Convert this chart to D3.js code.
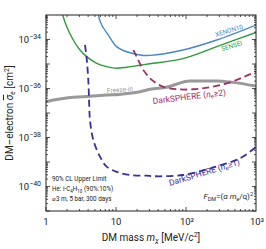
<!DOCTYPE html>
<html><head><meta charset="utf-8">
<script src="https://cdn.jsdelivr.net/npm/d3@7"></script>
<style>body{margin:0;background:#fff}text{font-family:Roboto,"Noto Sans",sans-serif}</style>
</head><body><svg id="c" width="266" height="249"></svg>
<script>
// ---- data (mass in MeV, log10 cross-section in cm^2) ----
const senseiM = [1.73,1.98,2.45,3.06,3.81,5.3,7.36,9.68,14.2,22,30.6,90.6,275,1000];
const senseiL = [-33,-33.48,-34.02,-34.43,-34.70,-34.97,-35.11,-35.17,-35.13,-35.05,-34.99,-34.78,-34.29,-33.71];
const xenonM = [5.58,6.25,7.77,10.2,14.2,22,30.6,90.6,275,1000];
const xenonL = [-33,-33.41,-33.82,-34.29,-34.50,-34.63,-34.65,-34.43,-34.02,-33.41];
const freezeM = [1,1.27,1.58,2.45,4.25,7.36,12.7,22,30.6,52.6,113.8,275,468,1000];
const freezeL = [-36.54,-36.47,-36.43,-36.36,-36.32,-36.27,-36.22,-36.13,-36.03,-35.95,-35.69,-35.69,-35.75,-35.90];
const ds2M = [17.7,20.8,24.5,30.6,38.1,47.4,73.6,127,220,381,659,1000];
const ds2L = [-34.43,-34.84,-35.24,-35.58,-35.79,-35.93,-36.03,-36.03,-35.95,-35.79,-35.54,-35.31];
const ds1M = [3.61,3.81,4.02,4.15,4.25,4.74,5.9,7.36,10.2,15.8,27.5,33.8,90.6,268,590,1000];
const ds1L = [-34.22,-34.77,-35.65,-36.74,-37.29,-38.10,-38.78,-39.19,-39.40,-39.53,-39.56,-39.58,-39.53,-39.19,-38.85,-38.39];
const xTickVals = [1,10,100,1000];
const xTickLabels = ["1","10","10²","10³"];
const yTickExps = [-34,-36,-38,-40];

const svg = d3.select("#c");
const L=46,R=256,T=15,B=211;
const x = d3.scaleLog().domain([1,1000]).range([L,R]);
const y = d3.scaleLog().domain([1e-41,1e-33]).range([B,T]);

const defs = svg.append("defs");
defs.append("clipPath").attr("id","cp").append("rect").attr("x",L).attr("y",T).attr("width",R-L).attr("height",B-T);
const g = svg.append("g").attr("clip-path","url(#cp)");
const line = d3.line().x(d=>x(d[0])).y(d=>y(Math.pow(10,d[1]))).curve(d3.curveMonotoneX);
const lineC = d3.line().x(d=>x(d[0])).y(d=>y(Math.pow(10,d[1]))).curve(d3.curveCatmullRom);
function draw(M,Lg,color,w,dash,gen){
  g.append("path").datum(M.map((m,i)=>[m,Lg[i]])).attr("d",(gen||line)).attr("fill","none")
   .attr("stroke",color).attr("stroke-width",w).attr("stroke-dasharray",dash||null);
}
draw(freezeM,freezeL,"#999999",3);
draw(senseiM,senseiL,"#2e9a3a",1.4,null,lineC);
draw(xenonM,xenonL,"#4a86c3",1.4,null,lineC);
draw(ds2M,ds2L,"#9a3265",1.8,"7,4",lineC);
draw(ds1M,ds1L,"#3a2f98",1.8,"7,4",lineC);

// frame
svg.append("rect").attr("x",L).attr("y",T).attr("width",R-L).attr("height",B-T).attr("fill","none").attr("stroke","#222").attr("stroke-width",1);

// ticks
const tk = svg.append("g").attr("stroke","#222").attr("stroke-width",0.8);
for(let d=0; d<3; d++) for(let k=1;k<10;k++){
  const v=Math.pow(10,d)*k, px=x(v), len = k===1?4:2;
  tk.append("line").attr("x1",px).attr("x2",px).attr("y1",B).attr("y2",B-len);
  tk.append("line").attr("x1",px).attr("x2",px).attr("y1",T).attr("y2",T+len);
}
for(let e=-41; e<-33; e++) for(let k=1;k<10;k++){
  const v=k*Math.pow(10,e), py=y(v), len = k===1?4:2;
  tk.append("line").attr("x1",L).attr("x2",L+len).attr("y1",py).attr("y2",py);
  tk.append("line").attr("x1",R).attr("x2",R-len).attr("y1",py).attr("y2",py);
}
// tick labels
xTickVals.forEach((v,i)=>{
  svg.append("text").attr("x",x(v)+(i>1?1:0)).attr("y",225).attr("text-anchor","middle").attr("font-size",9.5).attr("fill","#222").text(xTickLabels[i]);
});
yTickExps.forEach(e=>{
  const t = svg.append("text").attr("x",41).attr("y",y(Math.pow(10,e))+3.5).attr("text-anchor","end").attr("font-size",9.5).attr("fill","#222");
  t.append("tspan").text("10");
  t.append("tspan").attr("dy",-4).attr("font-size",7).text("−"+(-e));
});
// axis titles
const xt = svg.append("text").attr("x",151).attr("y",241).attr("text-anchor","middle").attr("font-size",10).attr("fill","#222");
xt.append("tspan").text("DM mass ");
xt.append("tspan").attr("font-style","italic").text("m");
xt.append("tspan").attr("font-style","italic").attr("font-size",7).attr("dy",2).text("χ");
xt.append("tspan").attr("dy",-2).text(" [MeV/");
xt.append("tspan").attr("font-style","italic").text("c");
xt.append("tspan").attr("font-size",7).attr("dy",-4).text("2");
xt.append("tspan").attr("dy",4).text("]");
const yt = svg.append("text").attr("transform","translate(13,113) rotate(-90)").attr("text-anchor","middle").attr("font-size",10).attr("fill","#222");
yt.append("tspan").text("DM–electron ");
yt.append("tspan").attr("font-style","italic").attr("text-decoration","overline").text("σ");
yt.append("tspan").attr("font-style","italic").attr("font-size",7).attr("dy",2).text("e");
yt.append("tspan").attr("dy",-2).text(" [cm");
yt.append("tspan").attr("font-size",7).attr("dy",-4).text("2");
yt.append("tspan").attr("dy",4).text("]");

// curve labels
svg.append("text").attr("transform","translate(107,93) rotate(-5)").attr("font-size",6.5).attr("fill","#999").text("Freeze-in");
svg.append("text").attr("transform","translate(216,37) rotate(-17)").attr("font-size",6.5).attr("fill","#4a86c3").text("XENON10");
svg.append("text").attr("transform","translate(222,51) rotate(-16)").attr("font-size",6.5).attr("fill","#2e9a3a").text("SENSEI");
const l2 = svg.append("text").attr("transform","translate(153,104) rotate(-7)").attr("font-size",8.5).attr("fill","#9a3265");
l2.append("tspan").text("DarkSPHERE (");
l2.append("tspan").attr("font-style","italic").text("n");
l2.append("tspan").attr("font-style","italic").attr("font-size",6).attr("dy",1.5).text("e");
l2.append("tspan").attr("dy",-1.5).text("≥2)");
const l1 = svg.append("text").attr("transform","translate(170,186) rotate(-17)").attr("font-size",8.5).attr("fill","#3a2f98");
l1.append("tspan").text("DarkSPHERE (");
l1.append("tspan").attr("font-style","italic").text("n");
l1.append("tspan").attr("font-style","italic").attr("font-size",6).attr("dy",1.5).text("e");
l1.append("tspan").attr("dy",-1.5).text("≥1)");
// info box
const info = svg.append("g").attr("font-size",6.3).attr("fill","#222");
info.append("text").attr("x",52).attr("y",181).text("90% CL Upper Limit");
const h = info.append("text").attr("x",52).attr("y",191);
h.append("tspan").text("He: i-C");
h.append("tspan").attr("font-size",4.5).attr("dy",1.5).text("4");
h.append("tspan").attr("dy",-1.5).text("H");
h.append("tspan").attr("font-size",4.5).attr("dy",1.5).text("10");
h.append("tspan").attr("dy",-1.5).text(" (90%:10%)");
info.append("text").attr("x",52).attr("y",201).text("⌀3 m, 5 bar, 300 days");
const f = svg.append("text").attr("x",253).attr("y",199).attr("text-anchor","end").attr("font-size",8).attr("fill","#222");
f.append("tspan").attr("font-style","italic").text("F");
f.append("tspan").attr("font-size",5.5).attr("dy",1.5).text("DM");
f.append("tspan").attr("dy",-1.5).text("=(");
f.append("tspan").attr("font-style","italic").text("α m");
f.append("tspan").attr("font-style","italic").attr("font-size",5.5).attr("dy",1.5).text("e");
f.append("tspan").attr("dy",-1.5).text("/q)");
f.append("tspan").attr("font-size",5.5).attr("dy",-3.5).text("2");
</script></body></html>
